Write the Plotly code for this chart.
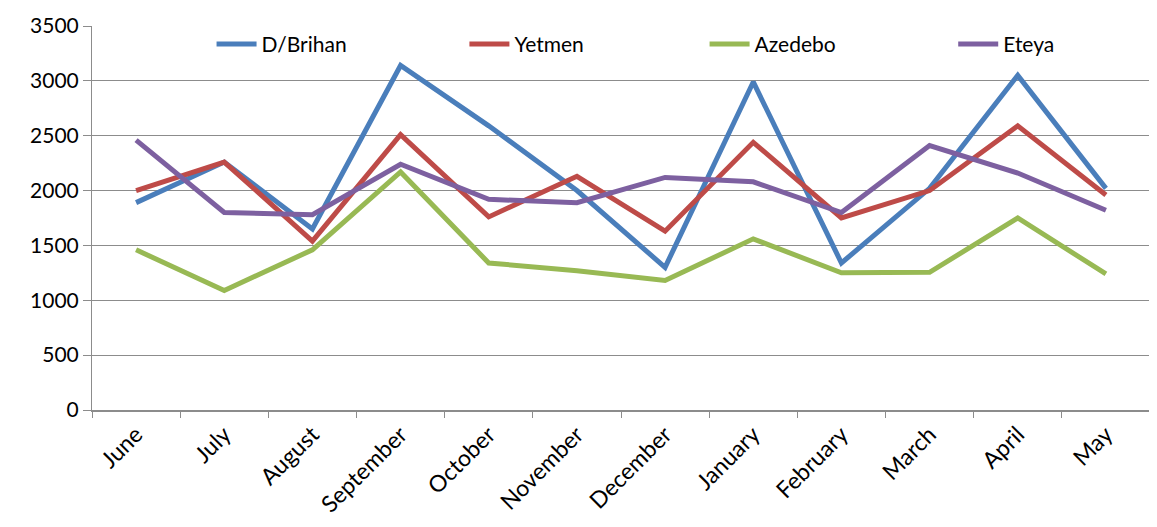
import plotly.graph_objects as go

months = ["June", "July", "August", "September", "October", "November",
          "December", "January", "February", "March", "April", "May"]

dbrihan = [1890, 2260, 1650, 3140, 2590, 2000, 1300, 2990, 1340, 2020, 3050, 2020]
yetmen = [2000, 2260, 1540, 2510, 1760, 2130, 1630, 2440, 1750, 2000, 2590, 1960]
azedebo = [1460, 1090, 1460, 2170, 1340, 1270, 1180, 1560, 1250, 1255, 1750, 1240]
eteya = [2460, 1800, 1780, 2240, 1920, 1890, 2120, 2080, 1800, 2410, 2160, 1820]

series = [("D/Brihan", dbrihan, "#4A7EBB"),
          ("Yetmen", yetmen, "#BE4B48"),
          ("Azedebo", azedebo, "#98B954"),
          ("Eteya", eteya, "#7D60A0")]

# legend entries placed one by one across the top of the plot
legend_x = [0.113, 0.352, 0.579, 0.814]
legend_names = ["legend", "legend2", "legend3", "legend4"]

fig = go.Figure()
for (name, vals, col), lg in zip(series, legend_names):
    fig.add_trace(go.Scatter(x=months, y=vals, name=name, mode="lines",
                             line=dict(color=col, width=5), legend=lg))

layout_legends = {}
for lg, lx in zip(legend_names, legend_x):
    layout_legends[lg] = dict(x=lx, xanchor="left", y=0.952, yanchor="middle",
                              bgcolor="rgba(0,0,0,0)", font=dict(size=21),
                              itemwidth=40)

# page body has an 8px margin, so the figure is a little smaller and shifted
fig.update_layout(
    width=1149, height=519,
    margin=dict(l=84, r=7, t=18, b=117, autoexpand=False),
    paper_bgcolor="white", plot_bgcolor="white",
    font=dict(family="Lato, Open Sans, sans-serif", size=21, color="black"),
    showlegend=True,
    **layout_legends,
)
fig.update_yaxes(range=[0, 3500], dtick=500, showgrid=True, gridcolor="#8c8c8c",
                 gridwidth=1, showline=True, linecolor="#8c8c8c", linewidth=1,
                 ticks="outside", ticklen=8, tickcolor="#8c8c8c", zeroline=False,
                 automargin=False)
fig.update_xaxes(showgrid=False, showline=True, linecolor="#8c8c8c", linewidth=2,
                 ticks="outside", tickson="boundaries", ticklen=6, tickcolor="#8c8c8c",
                 tickangle=-45, range=[-0.5, 11.5], tickfont=dict(size=23),
                 automargin=False)

fig.write_html("out.html")
